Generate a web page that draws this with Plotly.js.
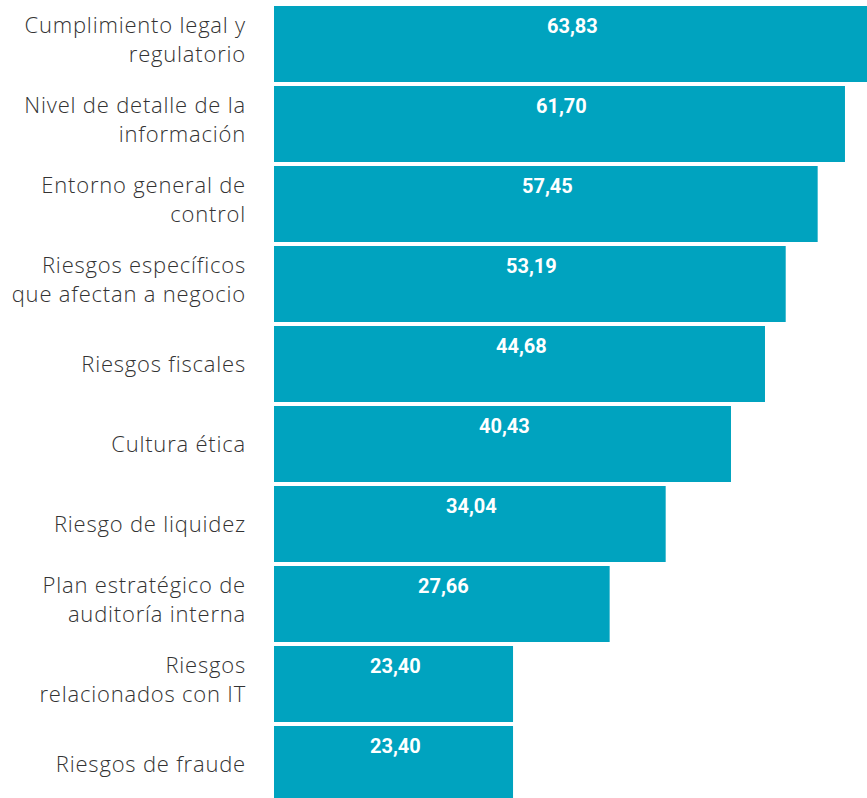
<!DOCTYPE html>
<html>
<head>
<meta charset="utf-8">
<script src="https://cdn.plot.ly/plotly-3.0.1.min.js"></script>
<style>
html,body{margin:0;padding:0;background:#fff;}
#chart{width:867px;height:798px;}
#chart .ytick text{letter-spacing:0.8px;}
</style>
</head>
<body>
<div id="chart"></div>
<script>
// Categories (top to bottom)
const categories = [
  "Cumplimiento legal y<br>regulatorio",
  "Nivel de detalle de la<br>información",
  "Entorno general de<br>control",
  "Riesgos específicos<br>que afectan a negocio",
  "Riesgos fiscales",
  "Cultura ética",
  "Riesgo de liquidez",
  "Plan estratégico de<br>auditoría interna",
  "Riesgos<br>relacionados con IT",
  "Riesgos de fraude"
];
// Printed values (labels)
const valueLabels = ["63,83", "61,70", "57,45", "53,19", "44,68", "40,43", "34,04", "27,66", "23,40", "23,40"];
// Bar lengths as drawn in the picture (same scale as first bar = 63.83)
const barLengths = [63.83, 61.46, 58.52, 55.08, 52.85, 49.19, 42.16, 36.13, 25.73, 25.73];

const barColor = "#00A3BF";

const trace = {
  type: "bar",
  orientation: "h",
  y: categories,
  x: barLengths,
  marker: {color: barColor, line: {width: 0}},
  hoverinfo: "skip",
  showlegend: false
};

const annotations = categories.map((c, i) => ({
  x: barLengths[i] / 2,
  y: c,
  xref: "x",
  yref: "y",
  text: valueLabels[i],
  showarrow: false,
  yshift: 18,
  xshift: 2,
  font: {family: "Roboto", size: 20, color: "#ffffff", weight: "bold"}
}));

const layout = {
  width: 867,
  height: 798,
  margin: {l: 274, r: 0, t: 4, b: 0, pad: 0},
  paper_bgcolor: "#ffffff",
  plot_bgcolor: "#ffffff",
  bargap: 0.05,
  xaxis: {
    range: [0, 63.83],
    showgrid: false, zeroline: false, showline: false,
    showticklabels: false, ticks: ""
  },
  yaxis: {
    type: "category",
    range: [9.425, -0.5],
    autorange: false,
    showgrid: false, zeroline: false, showline: false,
    ticks: "",
    ticklabelstandoff: 27,
    tickfont: {family: "Open Sans", size: 22, color: "#333333", weight: 300}
  },
  annotations: annotations
};

Plotly.newPlot("chart", [trace], layout, {displayModeBar: false, staticPlot: true}).then(function (gd) {
  // nudge two-line category labels slightly upward, as in the original layout
  gd.querySelectorAll(".ytick text").forEach(function (el) {
    if (el.querySelectorAll("tspan.line").length > 1) {
      const t = el.getAttribute("transform") || "";
      el.setAttribute("transform", "translate(0,-4) " + t);
    }
  });
});
</script>
</body>
</html>
